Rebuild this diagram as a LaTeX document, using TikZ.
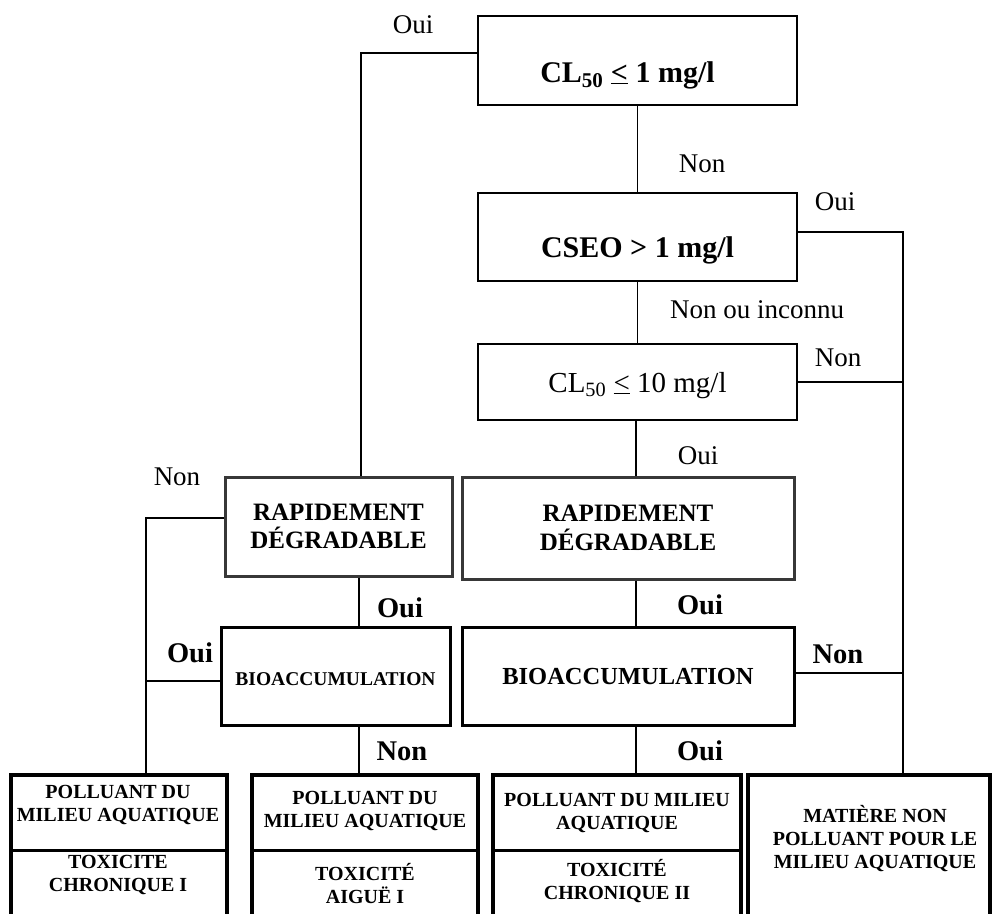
\documentclass[tikz,border=0pt]{standalone}
\usepackage{fontspec}
\setmainfont{Liberation Serif}
\begin{document}
\begin{tikzpicture}[x=1pt,y=-1pt,
  box/.style={draw, line width=2.4pt, inner sep=0pt, align=center},
  gbox/.style={draw=black!78, line width=3pt, inner sep=0pt, align=center},
  kbox/.style={draw, line width=3pt, inner sep=0pt, align=center},
  fbox/.style={draw, line width=3.3pt, inner sep=0pt},
  divl/.style={line width=3pt},
  conn/.style={line width=1.7pt},
  lab/.style={font=\fontsize{27}{32}\selectfont, inner sep=0pt, anchor=base},
  blab/.style={font=\fontsize{28.5}{32}\selectfont\bfseries, inner sep=0pt, anchor=base},
  ftxt/.style={font=\fontsize{20}{23}\selectfont\bfseries, inner sep=0pt, align=center},
]
\useasboundingbox (0,0) rectangle (992,913);
\clip (0,0) rectangle (992,913);
\fill[white] (0,0) rectangle (992,913);

% decision boxes
\node[box, minimum width=319pt, minimum height=89pt, text height=50pt, text depth=7pt,
      font=\fontsize{30}{34}\selectfont\bfseries] (b1) at (637.5,60.5)
      {CL\textsubscript{50} \underline{<} 1 mg/l\hspace*{20pt}};
\node[box, minimum width=319pt, minimum height=88pt, text height=47pt, text depth=7pt,
      font=\fontsize{30}{34}\selectfont\bfseries] (b2) at (637.5,237)
      {CSEO > 1 mg/l};
\node[box, minimum width=319pt, minimum height=76pt, text height=27pt, text depth=7pt,
      font=\fontsize{29}{34}\selectfont] (b3) at (637.5,382)
      {CL\textsubscript{50} \underline{<} 10 mg/l};

\node[gbox, minimum width=227pt, minimum height=99pt,
      font=\fontsize{25}{28.5}\selectfont\bfseries] (rl) at (338.5,526.5)
      {RAPIDEMENT\\DÉGRADABLE};
\node[gbox, minimum width=332pt, minimum height=102pt,
      font=\fontsize{25}{28.5}\selectfont\bfseries] (rr) at (628,528)
      {RAPIDEMENT\\DÉGRADABLE};

\node[kbox, minimum width=229pt, minimum height=98pt, text height=19pt, text depth=0pt,
      font=\fontsize{19.5}{22}\selectfont\bfseries] (bl) at (335.5,676)
      {BIOACCUMULATION};
\node[kbox, minimum width=332pt, minimum height=98pt,
      font=\fontsize{24.5}{28}\selectfont\bfseries] (br) at (628,676)
      {BIOACCUMULATION};

% final boxes (bottom edges beyond the page)
\node[fbox, minimum width=216pt, minimum height=165pt] (f1) at (119,857.5) {};
\node[fbox, minimum width=226pt, minimum height=165pt] (f2) at (365,857.5) {};
\node[fbox, minimum width=248pt, minimum height=165pt] (f3) at (617,857.5) {};
\node[fbox, minimum width=242pt, minimum height=165pt] (f4) at (869,857.5) {};
\coordinate (d) at (0,850);
\draw[divl] (f1.west |- d) -- (f1.east |- d);
\draw[divl] (f2.west |- d) -- (f2.east |- d);
\draw[divl] (f3.west |- d) -- (f3.east |- d);

\node[ftxt] (f1a) at (118,805) {POLLUANT DU\\MILIEU AQUATIQUE};
\node[ftxt] (f1b) at (118,875) {TOXICITE\\CHRONIQUE I};
\node[ftxt] (f2a) at (365,811) {POLLUANT DU\\MILIEU AQUATIQUE};
\node[ftxt] (f2b) at (365,884) {TOXICITÉ\\AIGUË I};
\node[ftxt] (f3a) at (617,813) {POLLUANT DU MILIEU\\AQUATIQUE};
\node[ftxt] (f3b) at (617,881) {TOXICITÉ\\CHRONIQUE II};
\node[ftxt] (f4a) at (875,838.5) {MATIÈRE NON\\POLLUANT POUR LE\\MILIEU AQUATIQUE};

% junction coordinates
\coordinate (jL) at (361,53);
\coordinate (jR) at (903,232);
\coordinate (jF) at (146,518);
\coordinate (vL) at (359,0);
\coordinate (vR) at (636,0);

% connectors
\draw[conn] (b1.west |- jL) -- (jL) -- (jL |- rl.north);
\draw[conn] (b1.south) -- (b2.north);
\draw[conn] (b2.south) -- (b3.north);
\draw[conn] (b2.east |- jR) -- (jR) -- (jR |- f4.north);
\draw[conn] (b3.east) -- (b3.east -| jR);
\draw[conn] (b3.south -| vR) -- (rr.north -| vR);
\draw[conn] (rr.south -| vR) -- (br.north -| vR);
\draw[conn] (br.south -| vR) -- (f3.north -| vR);
\draw[conn] (br.east |- 0,673) -- (jR |- 0,673);
\draw[conn] (rl.west |- jF) -- (jF) -- (jF |- f1.north);
\draw[conn] (bl.west |- 0,681) -- (jF |- 0,681);
\draw[conn] (rl.south -| vL) -- (bl.north -| vL);
\draw[conn] (bl.south -| vL) -- (f2.north -| vL);

% labels
\node[lab] (l1) at (413,33) {Oui};
\node[lab] (l2) at (702,172) {Non};
\node[lab] (l3) at (835,210) {Oui};
\node[lab] (l4) at (757,318) {Non ou inconnu};
\node[lab] (l5) at (838,366) {Non};
\node[lab] (l6) at (698,464) {Oui};
\node[lab] (l7) at (177,485) {Non};
\node[blab] (l8) at (400,617) {Oui};
\node[blab] (l9) at (700,614) {Oui};
\node[blab] (l10) at (190,662) {Oui};
\node[blab] (l11) at (838,663) {Non};
\node[blab] (l12) at (402,760) {Non};
\node[blab] (l13) at (700,760) {Oui};
\end{tikzpicture}
\end{document}
